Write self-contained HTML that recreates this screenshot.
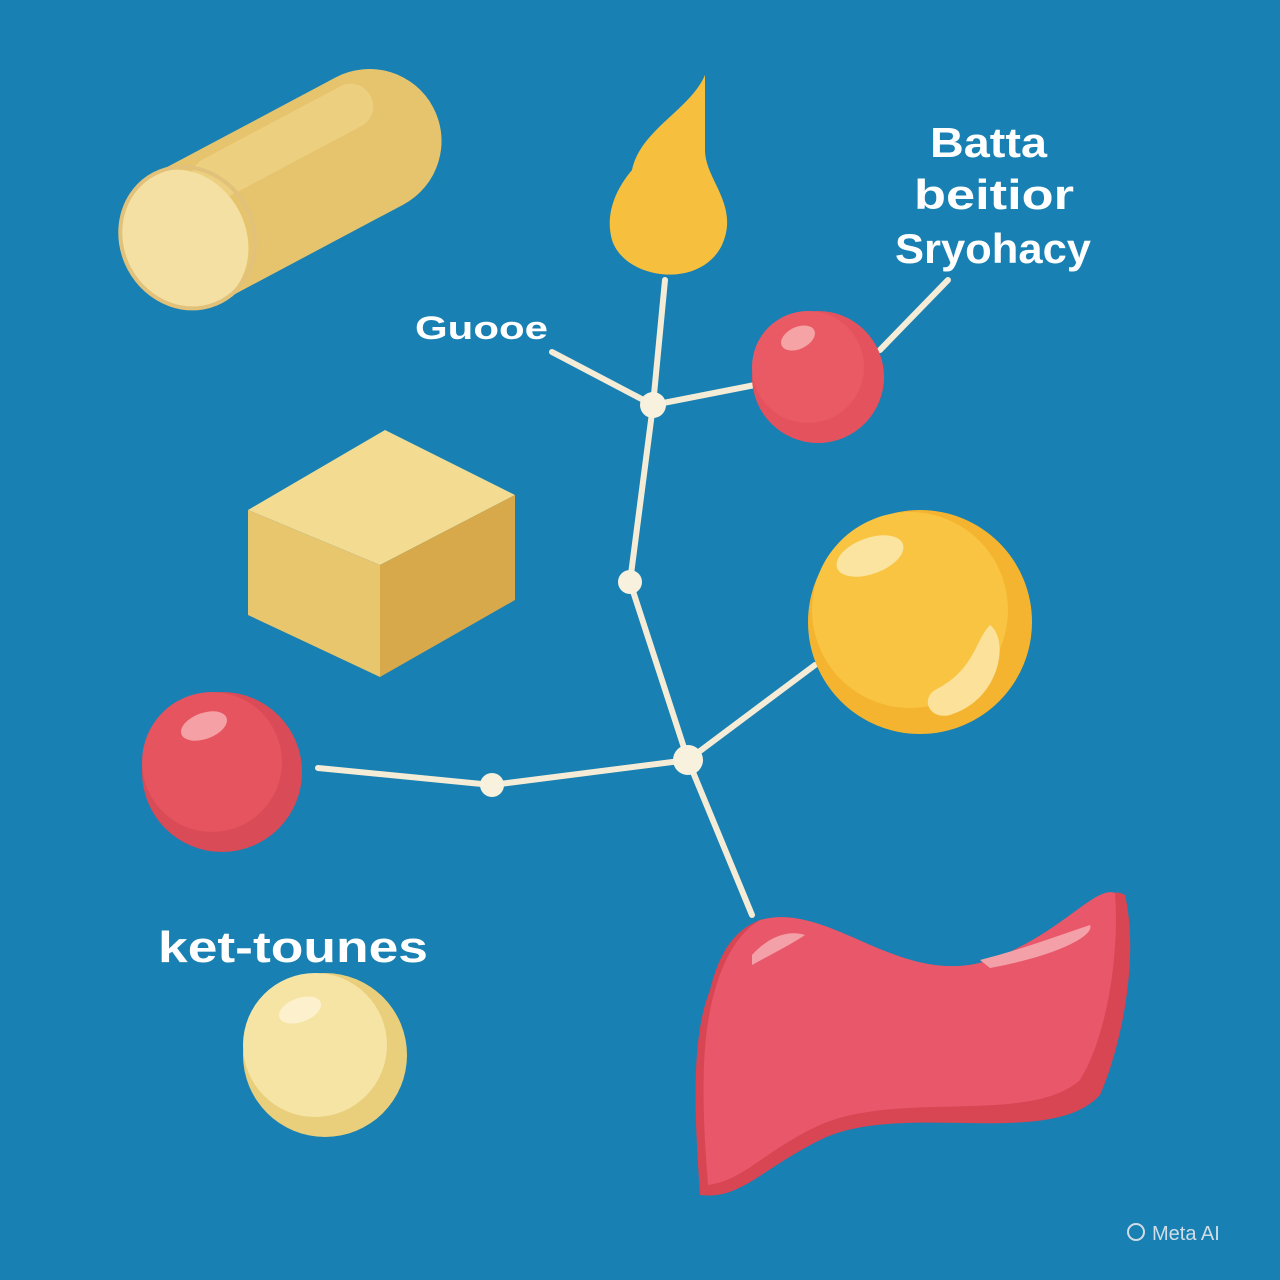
<!DOCTYPE html>
<html><head><meta charset="utf-8"><style>
html,body{margin:0;padding:0;background:#1880b2;}
svg{display:block}
text{font-family:"Liberation Sans",sans-serif;fill:#fff;font-weight:600}
</style></head><body>
<svg width="1280" height="1280" viewBox="0 0 1280 1280">
<rect width="1280" height="1280" fill="#1880b2"/>
<!-- capsule -->
<g transform="translate(283,187) rotate(-28)">
<rect x="-170" y="-72" width="340" height="144" rx="72" fill="#e6c46d"/>
<rect x="-80" y="-62" width="200" height="45" rx="22" fill="#edcf80"/>
<ellipse cx="-112" cy="0" rx="62" ry="72" fill="#f3e0a2"/>
<ellipse cx="-108" cy="0" rx="66" ry="72" fill="none" stroke="#e2c27a" stroke-width="4"/>
</g>
<!-- cube -->
<polygon points="248,510 385,430 515,495 380,565" fill="#f3dc92"/>
<polygon points="248,510 380,565 380,677 248,615" fill="#e7c66d"/>
<polygon points="380,565 515,495 515,600 380,677" fill="#d8a94a"/>
<!-- flame -->
<path d="M705,75 C690,110 640,130 632,170 C615,190 605,215 612,240 C625,280 700,290 722,245 C740,205 705,180 705,150 Z" fill="#f6bf3d"/>
<!-- lines -->
<g stroke="#f4ecd6" stroke-width="6" stroke-linecap="round" fill="none">
<line x1="665" y1="280" x2="653" y2="405"/>
<line x1="552" y1="352" x2="653" y2="405"/>
<line x1="653" y1="405" x2="755" y2="385"/>
<polyline points="653,405 630,582 688,760"/>
<line x1="688" y1="760" x2="815" y2="665"/>
<line x1="688" y1="760" x2="492" y2="785"/>
<line x1="492" y1="785" x2="318" y2="768"/>
<line x1="688" y1="760" x2="752" y2="915"/>
<line x1="880" y1="350" x2="948" y2="280"/>
</g>
<g fill="#f8f1de">
<circle cx="653" cy="405" r="13"/><circle cx="630" cy="582" r="12"/>
<circle cx="688" cy="760" r="15"/><circle cx="492" cy="785" r="12"/>
</g>
<!-- red ball 1 -->
<circle cx="818" cy="377" r="66" fill="#e4525e"/>
<circle cx="808" cy="367" r="56" fill="#e95a64"/>
<ellipse cx="798" cy="338" rx="18" ry="11" fill="#f5a3a5" transform="rotate(-25 798 338)"/>
<!-- yellow ball -->
<circle cx="920" cy="622" r="112" fill="#f4b430"/>
<circle cx="910" cy="610" r="98" fill="#f8c441"/>
<ellipse cx="870" cy="556" rx="35" ry="18" fill="#fbe4a0" transform="rotate(-20 870 556)"/>
<path d="M990,625 C1010,640 1000,700 950,715 C930,720 920,700 935,690 C975,670 975,640 990,625 Z" fill="#fbe19a"/>
<!-- red ball 2 -->
<circle cx="222" cy="772" r="80" fill="#d84b57"/>
<circle cx="212" cy="762" r="70" fill="#e5545f"/>
<ellipse cx="204" cy="726" rx="24" ry="13" fill="#f4a0a4" transform="rotate(-20 204 726)"/>
<!-- cream ball -->
<circle cx="325" cy="1055" r="82" fill="#e9cf7c"/>
<circle cx="315" cy="1045" r="72" fill="#f6e4a5"/>
<ellipse cx="300" cy="1010" rx="22" ry="12" fill="#fcf1cc" transform="rotate(-20 300 1010)"/>
<!-- red blob -->
<path d="M760,920 C830,900 900,990 990,960 C1060,935 1100,880 1125,895 C1140,960 1120,1050 1100,1095 C1050,1150 900,1100 820,1140 C760,1170 740,1200 700,1195 C695,1120 690,1040 710,990 C720,950 735,930 760,920 Z" fill="#d84553"/>
<path d="M760,920 C830,900 900,990 990,960 C1060,935 1095,885 1115,893 C1120,960 1105,1040 1080,1080 C1030,1125 900,1090 820,1125 C765,1150 745,1180 708,1185 C702,1110 700,1040 715,990 C725,955 740,932 760,920 Z" fill="#e8586a"/>
<path d="M752,955 C770,935 790,930 805,935 C790,945 770,955 752,965 Z" fill="#f4a0a8"/>
<path d="M980,960 C1020,950 1060,935 1090,925 C1095,935 1060,955 990,968 Z" fill="#f4a0a8"/>
<!-- labels -->
<text x="415" y="339" font-size="32" textLength="133" lengthAdjust="spacingAndGlyphs">Guooe</text>
<text x="930" y="157" font-size="42" textLength="117" lengthAdjust="spacingAndGlyphs">Batta</text>
<text x="914" y="209" font-size="42" textLength="160" lengthAdjust="spacingAndGlyphs">beitior</text>
<text x="895" y="263" font-size="42" textLength="196" lengthAdjust="spacingAndGlyphs">Sryohacy</text>
<text x="158" y="962" font-size="44" textLength="270" lengthAdjust="spacingAndGlyphs">ket-tounes</text>
<circle cx="1136" cy="1232" r="8" fill="none" stroke="#d0dde6" stroke-width="2"/>
<text x="1152" y="1240" font-size="20" style="fill:#d0dde6;font-weight:400">Meta AI</text>
</svg>
</body></html>
